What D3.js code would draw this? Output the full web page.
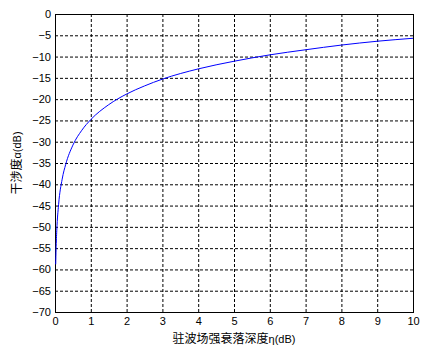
<!DOCTYPE html>
<html>
<head>
<meta charset="utf-8">
<script src="https://cdn.jsdelivr.net/npm/d3@7"></script>
<style>
body { margin: 0; background: #fff; }
.tick text { font-family: Arial, "Liberation Sans", sans-serif; font-size: 11px; fill: #000; }
</style>
</head>
<body>
<div id="container"></div>
<script>
/* CONSTANTS AND GLOBALS */
const width = 439,
    height = 348,
    margin = { top: 14, right: 26, bottom: 36, left: 55 }

// curve values
const eta = [0.02, 0.03, 0.05, 0.1, 0.2, 0.3, 0.5, 0.75, 1, 1.5, 2, 2.5, 3, 4, 5, 6, 7, 8, 9, 10]
const alpha = [-58.8, -55.3, -50.8, -44.8, -38.8, -35.3, -30.8, -27.3, -24.8, -21.3, -18.8, -16.9, -15.3, -12.9, -11.1, -9.6, -8.4, -7.3, -6.4, -5.7]
const xTicks = [0, 1, 2, 3, 4, 5, 6, 7, 8, 9, 10]
const yTicks = [0, -5, -10, -15, -20, -25, -30, -35, -40, -45, -50, -55, -60, -65, -70]

const data = eta.map((d, i) => ({ x: d, y: alpha[i] }))

//SCALE
const xScale = d3.scaleLinear()
    .domain([0, 10])
    .range([margin.left, width - margin.right])

const yScale = d3.scaleLinear()
    .domain([-70, 0])
    .range([height - margin.bottom, margin.top])

//SVG
const svg = d3.select("#container")
    .append("svg")
    .attr("width", width)
    .attr("height", height)
    .style("background-color", "white")

// GRID
svg.append("g")
    .selectAll("line")
    .data(xTicks.slice(1, -1))
    .join("line")
    .attr("x1", d => xScale(d) + 0.5)
    .attr("x2", d => xScale(d) + 0.5)
    .attr("y1", margin.top)
    .attr("y2", height - margin.bottom)
    .attr("stroke", "#000")
    .attr("stroke-dasharray", "3,2")

svg.append("g")
    .selectAll("line")
    .data(yTicks.slice(1, -1))
    .join("line")
    .attr("x1", margin.left)
    .attr("x2", width - margin.right)
    .attr("y1", d => yScale(d) + 0.5)
    .attr("y2", d => yScale(d) + 0.5)
    .attr("stroke", "#000")
    .attr("stroke-dasharray", "3,2")

// AXES
const xAxis = d3.axisBottom(xScale).tickValues(xTicks).tickSize(0).tickPadding(5)
const yAxis = d3.axisLeft(yScale).tickValues(yTicks).tickSize(0).tickPadding(4)

svg.append("g")
    .attr("transform", "translate(0," + (height - margin.bottom) + ")")
    .call(xAxis)
    .call(g => g.select(".domain").remove())

svg.append("g")
    .attr("transform", "translate(" + margin.left + ",0)")
    .call(yAxis)
    .call(g => g.select(".domain").remove())

// BOX
svg.append("rect")
    .attr("x", margin.left + 0.5)
    .attr("y", margin.top + 0.5)
    .attr("width", width - margin.left - margin.right)
    .attr("height", height - margin.top - margin.bottom)
    .attr("fill", "none")
    .attr("stroke", "#000")

// LINE
const line = d3.line()
    .x(d => xScale(d.x))
    .y(d => yScale(d.y))
    .curve(d3.curveMonotoneX)

svg.append("path")
    .datum(data)
    .attr("d", line)
    .attr("fill", "none")
    .attr("stroke", "#0000ff")
    .attr("stroke-width", 1)

// LABELS
const xl = svg.append("text")
    .attr("x", xScale(5))
    .attr("y", height - 5)
    .attr("text-anchor", "middle")
    .style("font-family", "'Noto Sans CJK SC', sans-serif")
    .style("font-size", "12px")
xl.append("tspan").text("驻波场强衰落深度")
xl.append("tspan").style("font-family", "Arial, 'Liberation Sans', sans-serif").style("font-size", "11px").text("η(dB)")

const yl = svg.append("text")
    .attr("transform", "translate(21," + yScale(-35) + ") rotate(-90)")
    .attr("text-anchor", "middle")
    .style("font-family", "'Noto Sans CJK SC', sans-serif")
    .style("font-size", "12px")
yl.append("tspan").text("干涉度")
yl.append("tspan").style("font-family", "Arial, 'Liberation Sans', sans-serif").style("font-size", "11px").text("α(dB)")
</script>
</body>
</html>
